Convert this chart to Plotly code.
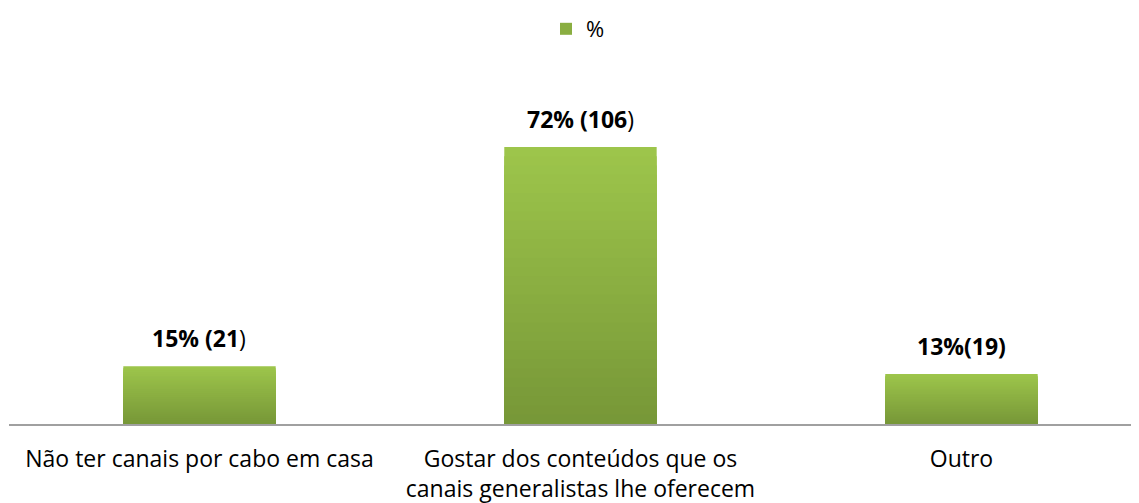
import plotly.graph_objects as go

categories = ["Não ter canais por cabo em casa",
              "Gostar dos conteúdos que os<br>canais generalistas lhe oferecem",
              "Outro"]
values = [15, 72, 13]
labels = ["<b>15% (21</b>)", "<b>72% (106</b>)", "<b>13%(19)</b>"]
series_name = "%"

top_rgb = (157, 197, 75)
bot_rgb = (118, 150, 55)
steps = 30

x = list(range(len(categories)))
fig = go.Figure()
for k in range(steps, 0, -1):
    f = k / steps
    c = tuple(int(round(b + (t - b) * f)) for t, b in zip(top_rgb, bot_rgb))
    fig.add_trace(go.Bar(
        x=x, y=[v * f for v in values], width=0.4,
        marker=dict(color="rgb(%d,%d,%d)" % c, line=dict(width=0)),
        name=series_name, showlegend=(k == steps // 2), hoverinfo="skip"))

for i, (v, t) in enumerate(zip(values, labels)):
    fig.add_annotation(x=i, y=v, text=t, showarrow=False, yanchor="bottom",
                       yshift=10, font=dict(family="Open Sans", size=23, color="#000000"))

fig.update_layout(
    width=1139, height=503, barmode="overlay",
    margin=dict(l=1, r=0, t=62, b=87),
    paper_bgcolor="white", plot_bgcolor="white",
    showlegend=True,
    legend=dict(orientation="h", x=0.5, xanchor="center", y=1.0, yref="container",
                yanchor="top", font=dict(family="Open Sans", size=22, color="#000000"),
                itemwidth=30),
    xaxis=dict(range=[-0.5, 2.487], tickvals=x, ticktext=categories,
               showline=True, linecolor="#a0a0a0", linewidth=2, showgrid=False,
               zeroline=False, ticks="", ticklabelstandoff=13,
               tickfont=dict(family="Open Sans", size=23, color="#000000")),
    yaxis=dict(range=[0, 92], visible=False, showgrid=False, zeroline=False),
)
fig.write_html("out.html")
